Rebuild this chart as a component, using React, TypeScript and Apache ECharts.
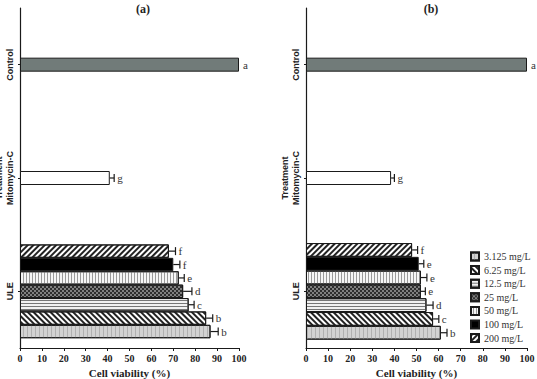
import React, { useEffect, useRef } from 'react';
import * as echarts from 'echarts';

// Category groups along the vertical axis (top to bottom)
const groups = ['Control', 'Treatment\nMitomycin-C', 'ULE'];
// ULE concentrations, in bar order from top to bottom
const concentrations = ['200 mg/L', '100 mg/L', '50 mg/L', '25 mg/L', '12.5 mg/L', '6.25 mg/L', '3.125 mg/L'];
// Legend order (top to bottom)
const legendOrder = ['3.125 mg/L', '6.25 mg/L', '12.5 mg/L', '25 mg/L', '50 mg/L', '100 mg/L', '200 mg/L'];
const titles = ['(a)', '(b)'];

// Panel (a): control and Mitomycin-C
const refValuesA = [100, 41];
const refErrorsA = [0, 2];
const refLettersA = ['a', 'g'];
// Panel (a): ULE, same order as `concentrations`
const uleValuesA = [68, 70, 72.5, 74.5, 77, 85, 87];
const uleErrorsA = [3, 3, 2.5, 4, 2.5, 3, 3.5];
const uleLettersA = ['f', 'f', 'e', 'd', 'c', 'b', 'b'];

// Panel (b): control and Mitomycin-C
const refValuesB = [100, 38.5];
const refErrorsB = [0, 1.5];
const refLettersB = ['a', 'g'];
// Panel (b): ULE, same order as `concentrations`
const uleValuesB = [48, 51, 52, 52, 54.5, 57.5, 61];
const uleErrorsB = [2.5, 2.3, 2.7, 2, 3, 2.6, 2.8];
const uleLettersB = ['f', 'e', 'e', 'e', 'd', 'c', 'b'];

const SERIF = '"Liberation Serif", "Times New Roman", serif';
const SANS = '"Liberation Sans", Arial, sans-serif';
const INK = '#1a1a1a';

// Fill patterns for each concentration
const concStyles: Record<string, any> = {
  '200 mg/L': {
    color: '#ffffff',
    decal: { symbol: 'rect', symbolSize: 1, dashArrayX: [1, 0], dashArrayY: [1.2, 2], rotation: -Math.PI / 4, color: '#222' },
  },
  '100 mg/L': { color: '#000000', decal: 'none' },
  '50 mg/L': {
    color: '#f6f6f6',
    decal: { symbol: 'rect', symbolSize: 1, dashArrayX: [1, 0], dashArrayY: [1, 2], rotation: Math.PI / 2, color: '#9a9a9a' },
  },
  '25 mg/L': {
    color: '#808080',
    decal: { symbol: 'rect', symbolSize: 1, dashArrayX: [[1.5, 1.5], [0, 1.5, 1.5, 0]], dashArrayY: [1.5, 0], color: '#2e2e2e' },
  },
  '12.5 mg/L': {
    color: '#f2f2f2',
    decal: { symbol: 'rect', symbolSize: 1, dashArrayX: [1, 0], dashArrayY: [1, 1.6], rotation: 0, color: '#777' },
  },
  '6.25 mg/L': {
    color: '#ffffff',
    decal: { symbol: 'rect', symbolSize: 1, dashArrayX: [1, 0], dashArrayY: [1.2, 2], rotation: Math.PI / 4, color: '#222' },
  },
  '3.125 mg/L': {
    color: '#d2d2d2',
    decal: { symbol: 'rect', symbolSize: 1, dashArrayX: [1, 0], dashArrayY: [1, 3], rotation: Math.PI / 2, color: '#b0b0b0' },
  },
};
const refColors = ['#717b79', '#ffffff'];

function errorSeries(
  xi: number,
  yi: number,
  vals: number[],
  errs: number[],
  letters: string[],
  cats: number[],
  slotH: number,
) {
  const n = vals.length;
  return {
    type: 'custom',
    xAxisIndex: xi,
    yAxisIndex: yi,
    silent: true,
    z: 5,
    clip: false,
    data: vals.map((v, i) => [v + errs[i], cats[i]]),
    encode: { x: 0, y: 1 },
    renderItem: (params: any, api: any) => {
      const i = params.dataIndex;
      const cat = cats[i];
      const start = api.coord([vals[i], cat]);
      const end = api.coord([vals[i] + errs[i], cat]);
      const y = start[1] + (n > 1 && cats[0] === cats[n - 1] ? (i - (n - 1) / 2) * slotH : 0);
      const children: any[] = [];
      if (errs[i] > 0) {
        children.push({
          type: 'line',
          shape: { x1: start[0], y1: y, x2: end[0], y2: y },
          style: { stroke: INK, lineWidth: 1.2 },
        });
        children.push({
          type: 'line',
          shape: { x1: end[0], y1: y - 4, x2: end[0], y2: y + 4 },
          style: { stroke: INK, lineWidth: 1.2 },
        });
      }
      children.push({
        type: 'text',
        x: end[0] + (errs[i] > 0 ? 3 : 4),
        y: y,
        style: {
          text: letters[i],
          fill: '#333',
          fontFamily: SERIF,
          fontSize: 11,
          align: 'left',
          verticalAlign: 'middle',
        },
      });
      return { type: 'group', children };
    },
  };
}

function panel(
  gi: number,
  refVals: number[],
  refErrs: number[],
  refLetters: string[],
  uleVals: number[],
  uleErrs: number[],
  uleLetters: string[],
  barH: number,
) {
  const refY = gi * 2;
  const uleY = gi * 2 + 1;
  const series: any[] = [];
  series.push({
    type: 'bar',
    name: 'reference',
    xAxisIndex: gi,
    yAxisIndex: refY,
    barWidth: 14,
    itemStyle: { borderColor: INK, borderWidth: 1 },
    data: [
      ...refVals.map((v, i) => ({ value: v, itemStyle: { color: refColors[i] } })),
      '-',
    ],
  });
  concentrations.forEach((c, k) => {
    series.push({
      type: 'bar',
      name: c,
      xAxisIndex: gi,
      yAxisIndex: uleY,
      barWidth: barH,
      barGap: '0%',
      itemStyle: { ...concStyles[c], borderColor: INK, borderWidth: 1 },
      data: ['-', '-', uleVals[k]],
    });
  });
  series.push(errorSeries(gi, refY, refVals, refErrs, refLetters, [0, 1], 0));
  series.push(errorSeries(gi, uleY, uleVals, uleErrs, uleLetters, concentrations.map(() => 2), barH));
  return series;
}

function yAxes(gi: number) {
  return [
    {
      gridIndex: gi,
      type: 'category',
      data: groups,
      inverse: true,
      axisLine: { show: true, lineStyle: { color: INK, width: 1.2 } },
      axisTick: { show: true, alignWithLabel: true, length: 2, lineStyle: { color: INK } },
      axisLabel: {
        rotate: 90,
        margin: 5,
        fontFamily: SANS,
        fontWeight: 'bold',
        fontSize: 9,
        lineHeight: 11,
        color: '#222',
      },
      splitLine: { show: false },
    },
    {
      gridIndex: gi,
      type: 'category',
      data: groups,
      inverse: true,
      show: false,
    },
  ];
}

function xAxis(gi: number) {
  return {
    gridIndex: gi,
    type: 'value',
    min: 0,
    max: 100,
    interval: 10,
    axisLine: { show: true, lineStyle: { color: INK, width: 1.2 } },
    axisTick: { show: true, length: 3, lineStyle: { color: INK } },
    axisLabel: { margin: 5, fontFamily: SERIF, fontWeight: 'bold', fontSize: 10, color: '#222' },
    splitLine: { show: false },
    name: 'Cell viability (%)',
    nameLocation: 'middle',
    nameGap: 15,
    nameTextStyle: { fontFamily: SERIF, fontWeight: 'bold', fontSize: 11, color: '#222' },
  };
}

export default function App() {
  const ref = useRef<HTMLDivElement>(null);
  useEffect(() => {
    if (!ref.current) return;
    const chart = echarts.init(ref.current, null, { renderer: 'svg' });
    chart.setOption({
      animation: false,
      backgroundColor: '#ffffff',
      grid: [
        { left: 20, top: 8, width: 219, height: 340, outerBoundsMode: 'none', containLabel: false },
        { left: 306, top: 8, width: 221, height: 340, outerBoundsMode: 'none', containLabel: false },
      ],
      xAxis: [xAxis(0), xAxis(1)],
      yAxis: [...yAxes(0), ...yAxes(1)],
      legend: {
        data: legendOrder,
        orient: 'vertical',
        left: 470,
        top: 251,
        itemWidth: 8,
        itemHeight: 8,
        itemGap: 2.6,
        icon: 'rect',
        selectedMode: false,
        padding: 0,
        textStyle: { fontFamily: SERIF, fontSize: 10, color: '#333', lineHeight: 11 },
      },
      graphic: [
        {
          type: 'text',
          x: 143,
          y: 9,
          style: { text: titles[0], align: 'center', verticalAlign: 'middle', fontFamily: SERIF, fontWeight: 'bold', fontSize: 12, fill: '#222' },
        },
        {
          type: 'text',
          x: 431,
          y: 9,
          style: { text: titles[1], align: 'center', verticalAlign: 'middle', fontFamily: SERIF, fontWeight: 'bold', fontSize: 12, fill: '#222' },
        },
      ],
      series: [
        ...panel(0, refValuesA, refErrorsA, refLettersA, uleValuesA, uleErrorsA, uleLettersA, 13.4),
        ...panel(1, refValuesB, refErrorsB, refLettersB, uleValuesB, uleErrorsB, uleLettersB, 13.8),
      ],
    });
    return () => chart.dispose();
  }, []);
  return (
    <div
      ref={ref}
      style={{ position: 'fixed', left: 0, top: 0, width: 537, height: 379, background: '#fff' }}
    />
  );
}
